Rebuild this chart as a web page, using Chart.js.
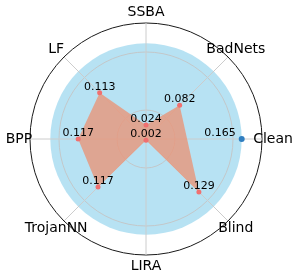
<!DOCTYPE html>
<html>
<head>
<meta charset="utf-8">
<script src="https://cdn.jsdelivr.net/npm/chart.js@4.4.1/dist/chart.umd.min.js"></script>
<style>
  html, body { margin: 0; padding: 0; background: #fff; }
  #wrap { width: 299px; height: 279px; }
</style>
</head>
<body>
<div id="wrap"><canvas id="radar" width="299" height="279"></canvas></div>
<script>
// axes go clockwise from the top
const labels = ['SSBA', 'BadNets', 'Clean', 'Blind', 'LIRA', 'TrojanNN', 'BPP', 'LF'];
const attackValues = [0.024, 0.082, null, 0.129, 0.002, 0.117, 0.117, 0.113];
const cleanValues = [null, null, 0.165, null, null, null, null, null];
const cleanRing = 0.165;
const radialTicks = [0, 0.05, 0.15, 0.2];
const rMax = 0.2;

const radar = document.getElementById('radar');

// blue disc under the grid, axis names and value labels on top
const radarExtras = {
    id: 'radarExtras',
    beforeDraw(chart) {
        const r = chart.scales.r;
        const ctx = chart.ctx;
        ctx.save();
        ctx.fillStyle = 'rgba(135, 206, 235, 0.6)';
        ctx.beginPath();
        ctx.arc(r.xCenter, r.yCenter, r.getDistanceFromCenterForValue(cleanRing), 0, Math.PI * 2);
        ctx.fill();
        ctx.restore();
    },
    afterDatasetsDraw(chart) {
        const r = chart.scales.r;
        const ctx = chart.ctx;
        ctx.save();
        ctx.fillStyle = '#000';

        ctx.font = '14px "DejaVu Sans"';
        ctx.textAlign = 'center';
        ctx.textBaseline = 'middle';
        labels.forEach((lab, i) => {
            const p = r.getPointPosition(i, r.drawingArea + 11);
            ctx.fillText(lab, p.x, p.y);
        });

        ctx.font = '11px "DejaVu Sans"';
        ctx.textBaseline = 'alphabetic';
        chart.getDatasetMeta(0).data.forEach((pt, i) => {
            if (attackValues[i] == null) return;
            ctx.textAlign = 'center';
            ctx.fillText(attackValues[i].toFixed(3), pt.x, pt.y - 3);
        });
        chart.getDatasetMeta(1).data.forEach((pt, i) => {
            if (cleanValues[i] == null) return;
            ctx.textAlign = 'right';
            ctx.fillText(cleanValues[i].toFixed(3), pt.x - 6, pt.y - 3);
        });
        ctx.restore();
    }
};

new Chart(radar, {
    type: 'radar',
    data: {
        labels: labels,
        datasets: [
            {
                label: 'Attacks',
                data: attackValues,
                spanGaps: true,
                fill: true,
                backgroundColor: 'rgba(233, 150, 122, 0.8)',
                borderWidth: 0,
                borderColor: 'rgba(233, 150, 122, 0.8)',
                pointRadius: 2.5,
                pointBorderWidth: 0,
                pointBackgroundColor: 'rgb(240, 112, 112)'
            },
            {
                label: 'Clean',
                data: cleanValues,
                showLine: false,
                fill: false,
                pointRadius: 3,
                pointBorderWidth: 0,
                pointBackgroundColor: '#2f7ec0'
            }
        ]
    },
    options: {
        responsive: false,
        animation: false,
        devicePixelRatio: 1,
        layout: { padding: { left: 11, right: 17, top: 23, bottom: 23 } },
        elements: { line: { tension: 0 } },
        plugins: {
            legend: { display: false },
            tooltip: { enabled: false }
        },
        scales: {
            r: {
                min: 0,
                max: rMax,
                afterBuildTicks: (scale) => {
                    scale.ticks = radialTicks.map(v => ({ value: v }));
                },
                ticks: { display: false },
                pointLabels: { display: false },
                grid: {
                    circular: true,
                    color: (c) => (c.tick && c.tick.value === rMax) ? '#1a1a1a' : '#c4c4c4',
                    lineWidth: (c) => (c.tick && c.tick.value === rMax) ? 1 : 0.9
                },
                angleLines: { color: '#cccccc', lineWidth: 1 }
            }
        }
    },
    plugins: [radarExtras]
});
</script>
</body>
</html>
